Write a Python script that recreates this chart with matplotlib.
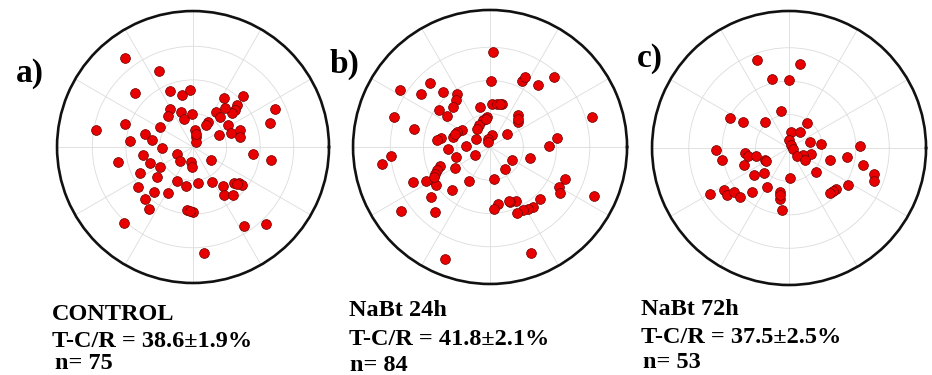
import numpy as np
import matplotlib
matplotlib.use("Agg")
import matplotlib.pyplot as plt

# Cell positions (cartesian, in units of grid-ring spacing)
a_x = [-2.03, -1.02, -1.74, -0.69, -0.32, -0.10, 0.92, 1.49, 1.32, 1.25, 1.15, 2.43, 2.28,
       -0.70, -0.75, -0.37, -0.27, -0.02, 0.69, 0.80, 0.45, 0.40, 0.05, 0.10, 0.10, 1.05,
       1.12, 1.40, 1.40, 0.77, -2.90, -2.02, -0.98, -1.42, -1.22, -1.88, -0.93, -1.50,
       -1.28, -0.98, -2.24, -1.57, -1.07, -0.47, -0.38, -0.07, -0.03, 0.55, 1.80, 2.33,
       -0.47, -0.22, 0.16, 0.57, -1.65, -1.17, -0.75, -1.44, -1.32, 0.90, 1.23, 1.37, 1.47,
       0.92, 1.20, -0.19, 0.00, -2.05, 1.53, 2.17, 0.32, 0.95, 1.30, -0.10, 0.08]
a_y = [2.64, 2.26, 1.60, 1.68, 1.56, 1.70, 1.45, 1.52, 1.25, 1.10, 1.00, 1.13, 0.72,
       1.12, 0.92, 1.05, 0.82, 0.98, 1.05, 0.88, 0.75, 0.65, 0.50, 0.30, 0.15, 0.65,
       0.42, 0.50, 0.30, 0.36, 0.50, 0.70, 0.60, 0.40, 0.20, 0.18, -0.03, -0.25,
       -0.48, -0.60, -0.45, -0.78, -0.88, -0.22, -0.42, -0.45, -0.60, -0.40, -0.22, -0.38,
       -1.00, -1.16, -1.08, -1.03, -1.18, -1.34, -1.38, -1.55, -1.86, -1.17, -1.07, -1.07, -1.13,
       -1.44, -1.44, -1.87, -1.93, -2.25, -2.34, -2.28, -3.17, 1.15, -1.10, -1.90, 0.40]

b_x = [0.10, 0.03, 0.95, 1.05, 1.45, 1.93, 3.07, -2.72, -2.08, -1.80, -1.40, -1.00, -1.02,
       -1.10, -1.55, -1.28, -2.90, -2.30, -0.30, 0.05, 0.20, 0.35, -0.10, -0.20, -0.32,
       -0.40, 0.85, 0.85, -0.85, -1.00, -1.10, -1.48, -1.60, 0.05, -0.05, -0.05, -0.42,
       0.50, 2.00, 1.77, -0.73, -1.27, -1.02, -0.44, -2.97, -3.25, 0.65, 1.20, 0.45,
       -1.52, -1.60, -1.67, -1.72, -1.94, -2.32, -1.63, -1.05, -0.62, 0.12, 2.25, 2.08,
       2.10, 3.13, -1.14, -1.77, -1.67, -2.67, 1.50, 1.30, 1.15, 0.98, 0.80, 0.78, 0.60,
       0.23, 0.12, -1.35, 1.23, 0.85, -0.12, -1.05, 0.58, -1.70, 0.30]
b_y = [2.87, 1.98, 1.98, 2.10, 1.86, 2.09, 0.91, 1.70, 1.60, 1.93, 1.64, 1.58, 1.42,
       1.20, 1.12, 0.92, 0.91, 0.55, 1.20, 1.30, 1.30, 1.30, 0.90, 0.80, 0.65,
       0.55, 0.95, 0.75, 0.52, 0.45, 0.30, 0.28, 0.22, 0.35, 0.25, 0.15, 0.25,
       0.38, 0.28, 0.02, 0.03, -0.05, -0.30, -0.23, -0.26, -0.50, -0.38, -0.33, -0.67,
       -0.58, -0.70, -0.82, -1.00, -1.03, -1.05, -1.15, -0.62, -1.02, -0.97, -0.95, -1.20,
       -1.38, -1.48, -1.30, -1.50, -1.95, -1.94, -1.55, -1.80, -1.85, -1.90, -2.00, -1.62, -1.65,
       -1.72, -1.85, -3.36, -3.20, 0.85, 0.85, 0.38, -1.62, -0.90, 1.30]

c_x = [-0.97, 0.33, -0.50, 0.00, -0.24, -1.77, -1.37, -0.73, 0.54, 0.07, 0.34, 0.00, 0.05,
       0.12, 0.62, 0.95, 2.12, 0.65, 0.42, 0.24, 0.49, 1.22, 1.73, 2.22, 2.54, 2.54,
       -2.20, -2.00, -1.33, -1.23, -1.00, -1.36, -0.73, -0.68, -1.04, -0.74, 0.80, 0.04,
       -0.65, 1.77, 1.42, 1.32, 1.22, -0.28, -0.28, -0.20, -1.10, -1.95, -1.85, -1.65,
       -1.46, -2.36, -0.28]
c_y = [2.63, 2.51, 2.07, 2.02, 1.10, 0.91, 0.77, 0.77, 0.75, 0.47, 0.47, 0.25, 0.10,
       -0.03, 0.17, 0.12, 0.05, -0.17, -0.20, -0.25, -0.37, -0.36, -0.28, -0.52, -0.78, -0.98,
       -0.05, -0.37, -0.15, -0.23, -0.25, -0.50, -0.35, -0.40, -0.80, -0.75, -0.73, -0.91,
       -1.18, -1.12, -1.23, -1.30, -1.35, -1.32, -1.52, -1.87, -1.33, -1.25, -1.40, -1.33,
       -1.47, -1.37, -1.40]

panel_letters = ["a)", "b)", "c)"]
conditions = ["CONTROL", "NaBt 24h", "NaBt 72h"]
tcr_texts = ["T-C/R = 38.6\u00b11.9%", "T-C/R = 41.8\u00b12.1%", "T-C/R = 37.5\u00b12.5%"]
n_texts = ["n= 75", "n= 84", "n= 53"]
r_max = [4.05, 4.12, 4.10]

fig = plt.figure(figsize=(9.32, 3.75), dpi=100)
boxes = [[0.0612, 0.2453, 0.2918, 0.7253],
         [0.3788, 0.2427, 0.2940, 0.7307],
         [0.6996, 0.2400, 0.2940, 0.7307]]
serif = ["Liberation Serif", "DejaVu Serif"]
letter_pos = [(0.0172, 0.7813), (0.354, 0.8053), (0.6835, 0.8213)]
text_x = [0.0558, 0.3745, 0.6878]
n_x = [0.0590, 0.3755, 0.6900]
text_y = [(0.1467, 0.0747, 0.0160), (0.1573, 0.0800, 0.0107), (0.1600, 0.0853, 0.0187)]

for i, (xs, ys) in enumerate([(a_x, a_y), (b_x, b_y), (c_x, c_y)]):
    xs = np.array(xs); ys = np.array(ys)
    theta = np.arctan2(ys, xs)
    r = np.hypot(xs, ys)
    ax = fig.add_axes(boxes[i], projection="polar")
    ax.scatter(theta, r, s=50, c="#e80000", edgecolors="#6a0000", linewidths=0.5, zorder=3)
    ax.set_ylim(0, r_max[i])
    ax.set_yticks([1, 2, 3])
    ax.set_xticks(np.deg2rad(np.arange(0, 360, 30)))
    ax.set_xticklabels([])
    ax.set_yticklabels([])
    ax.grid(True, color="#dcdcdc", linewidth=0.6)
    ax.spines["polar"].set_linewidth(1.9)
    ax.spines["polar"].set_color("#111111")
    ax.tick_params(length=0)
    fig.text(letter_pos[i][0], letter_pos[i][1], panel_letters[i], fontsize=24,
             fontweight="bold", family=serif, ha="left", va="baseline")
    fig.text(text_x[i], text_y[i][0], conditions[i], fontsize=17.5, fontweight="bold",
             family=serif, ha="left", va="baseline")
    fig.text(text_x[i], text_y[i][1], tcr_texts[i], fontsize=17.5, fontweight="bold",
             family=serif, ha="left", va="baseline")
    fig.text(n_x[i], text_y[i][2], n_texts[i], fontsize=17.5, fontweight="bold",
             family=serif, ha="left", va="baseline")

fig.savefig("out.png", dpi=100)
